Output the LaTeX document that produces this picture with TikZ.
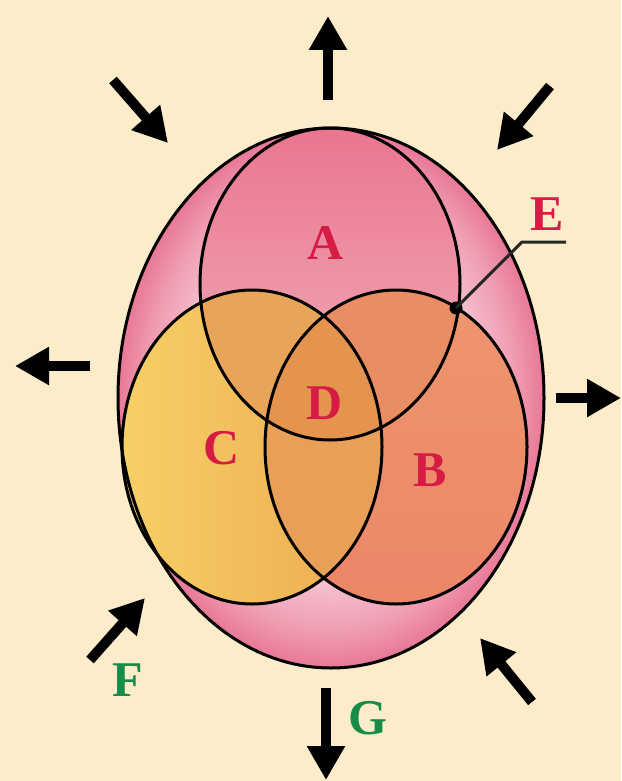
\documentclass[tikz,border=0pt]{standalone}
\usepackage{fontspec}
\setmainfont{Liberation Serif}
\usetikzlibrary{arrows.meta}
\definecolor{bg}{RGB}{252,236,202}
\definecolor{atop}{RGB}{234,118,142}
\definecolor{abot}{RGB}{242,176,190}
\definecolor{cyin}{RGB}{246,208,102}
\definecolor{cyout}{RGB}{238,168,80}
\definecolor{bsal}{RGB}{236,134,104}
\definecolor{bsallight}{RGB}{238,150,110}
\definecolor{ovac}{RGB}{232,164,88}
\definecolor{ovab}{RGB}{232,142,98}
\definecolor{ovbc}{RGB}{232,160,88}
\definecolor{ovd}{RGB}{228,148,78}
\definecolor{lblred}{RGB}{214,28,68}
\definecolor{lblgreen}{RGB}{22,140,72}
\pgfdeclareradialshading{outersh}{\pgfpoint{0bp}{0bp}}{%
  rgb(0bp)=(0.96,0.76,0.81);
  rgb(17bp)=(0.96,0.76,0.81);
  rgb(21.5bp)=(0.94,0.62,0.70);
  rgb(25bp)=(0.91,0.47,0.59);
  rgb(50bp)=(0.91,0.47,0.59)}
\tikzset{
  bigarrow/.style={line width=10pt,-{Triangle[length=34pt,width=36pt]}},
  outline/.style={draw=black,line width=3pt},
  lbl/.style={text=lblred,font=\fontsize{50}{50}\selectfont\bfseries,inner sep=0pt},
  glbl/.style={text=lblgreen,font=\fontsize{50}{50}\selectfont\bfseries,inner sep=0pt},
}
\def\pathO{(331,398) ellipse [x radius=213, y radius=270]}
\def\pathA{(330,284) ellipse [x radius=130, y radius=156]}
\def\pathC{(252,447) ellipse [x radius=130, y radius=157]}
\def\pathB{(396,447) ellipse [x radius=131, y radius=157]}
\begin{document}
\begin{tikzpicture}[x=1pt,y=-1pt]
\fill[bg] (0,0) rectangle (621,781);
\useasboundingbox (0,0) rectangle (621,781);
% outer ellipse
\shade[shading=outersh] \pathO;
% circles
\shade[top color=atop,bottom color=abot] \pathA;
\shade[left color=cyin,right color=cyout] \pathC;
\shade[top color=bsallight,bottom color=bsal] \pathB;
\begin{scope}\clip \pathA; \fill[ovac] \pathC; \fill[ovab] \pathB; \end{scope}
\begin{scope}\clip \pathB; \fill[ovbc] \pathC; \end{scope}
\begin{scope}\clip \pathA; \clip \pathB; \fill[ovd] \pathC; \end{scope}
\draw[outline] \pathO;
\draw[outline] \pathA;
\draw[outline] \pathC;
\draw[outline] \pathB;
% labels
\node[lbl] (A) at (326,243) {A};
\node[lbl] (D) at (325,403) {D};
\node[lbl] (C) at (222,448) {C};
\node[lbl] (B) at (430,470) {B};
\node[lbl] (E) at (547,214) {E};
\node[glbl] (F) at (128,680) {F};
\node[glbl] (G) at (368,718) {G};
% E leader
\coordinate (edot) at (456,308);
\coordinate (ebend) at (522,242);
\coordinate (eend) at (566,242);
\fill[black] (edot) circle [radius=6.5];
\draw[line width=3pt,black!85] (edot) -- (ebend) -- (eend);
% arrows
\coordinate (t1) at (328,100); \coordinate (h1) at (328,16);
\coordinate (t2) at (113,80);  \coordinate (h2) at (168,143);
\coordinate (t3) at (550,86);  \coordinate (h3) at (497,150);
\coordinate (t4) at (90,366);  \coordinate (h4) at (15,366);
\coordinate (t5) at (556,398); \coordinate (h5) at (621,398);
\coordinate (t6) at (90,660);  \coordinate (h6) at (145,598);
\coordinate (t7) at (532,702); \coordinate (h7) at (480,638);
\coordinate (t8) at (326,688); \coordinate (h8) at (326,780);
\foreach \i in {1,...,8} { \draw[bigarrow] (t\i) -- (h\i); }
\end{tikzpicture}
\end{document}
